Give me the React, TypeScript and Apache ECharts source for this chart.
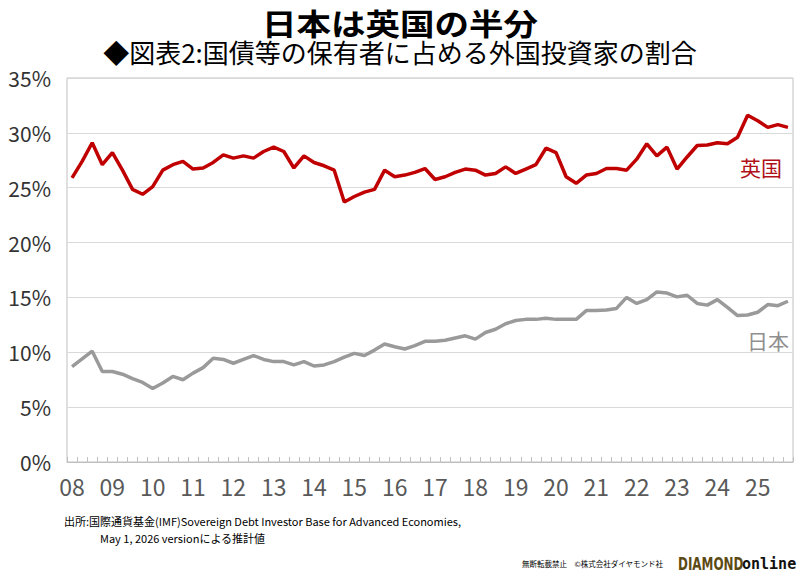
import React, { useEffect, useRef } from "react";
import * as echarts from "echarts";

const years = ["08", "09", "10", "11", "12", "13", "14", "15", "16", "17", "18", "19", "20", "21", "22", "23", "24", "25"];
const quarters = ["Q1", "Q2", "Q3", "Q4"];
const categories: string[] = [];
years.forEach((y) => quarters.forEach((q) => categories.push(y + q)));

const ukShare = [
  25.9, 27.4, 29.1, 27.1, 28.2, 26.6, 24.85, 24.4, 25.1, 26.6,
  27.1, 27.4, 26.7, 26.8, 27.3, 28.0, 27.7, 27.9, 27.7, 28.3,
  28.7, 28.3, 26.8, 27.9, 27.3, 27.0, 26.6, 23.7, 24.2, 24.6,
  24.85, 26.6, 26.0, 26.15, 26.4, 26.75, 25.75, 26.0, 26.4, 26.7,
  26.6, 26.15, 26.3, 26.9, 26.3, 26.7, 27.1, 28.6, 28.2, 26.0,
  25.4, 26.15, 26.3, 26.75, 26.75, 26.6, 27.6, 29.0, 27.9, 28.7,
  26.7, 27.8, 28.85, 28.9, 29.1, 29.0, 29.6, 31.6, 31.1, 30.5,
  30.75, 30.5,
];

const japanShare = [
  8.7, 9.4, 10.1, 8.25, 8.25, 8.0, 7.6, 7.25, 6.7, 7.2,
  7.8, 7.5, 8.1, 8.6, 9.45, 9.35, 9.0, 9.35, 9.7, 9.35,
  9.15, 9.15, 8.85, 9.15, 8.75, 8.85, 9.15, 9.55, 9.9, 9.7,
  10.2, 10.75, 10.5, 10.3, 10.6, 11.0, 11.0, 11.1, 11.3, 11.5,
  11.2, 11.8, 12.1, 12.6, 12.9, 13.0, 13.0, 13.1, 13.0, 13.0,
  13.0, 13.8, 13.8, 13.85, 14.0, 15.0, 14.45, 14.8, 15.5, 15.4,
  15.05, 15.2, 14.45, 14.3, 14.8, 14.1, 13.35, 13.4, 13.65, 14.35,
  14.25, 14.65,
];

const FONT = '"Noto Sans CJK JP", "Noto Sans", sans-serif';
const RED = "#C00000";
const GRAY = "#9a9a9a";

export default function App() {
  const ref = useRef<HTMLDivElement>(null);

  useEffect(() => {
    document.body.style.margin = "0";
    if (!ref.current) return;
    const chart = echarts.init(ref.current, undefined, { renderer: "svg" });
    chart.setOption({
      animation: false,
      backgroundColor: "#ffffff",
      textStyle: { fontFamily: FONT },
      grid: {
        left: 67,
        right: 7,
        top: 78,
        bottom: 118,
        show: true,
        borderColor: "#c0c0c0",
        borderWidth: 1,
        containLabel: false,
        outerBoundsMode: "none",
      },
      xAxis: {
        type: "category",
        data: categories,
        boundaryGap: true,
        axisLine: { lineStyle: { color: "#c0c0c0", width: 1 } },
        axisTick: { show: true, inside: true, length: 5, interval: 0, lineStyle: { color: "#c0c0c0" } },
        axisLabel: {
          interval: 3,
          margin: 12,
          fontSize: 23,
          color: "#595959",
          fontFamily: FONT,
          formatter: (v: string) => v.slice(0, 2),
        },
        splitLine: { show: false },
      },
      yAxis: {
        type: "value",
        min: 0,
        max: 35,
        interval: 5,
        axisLine: { show: false },
        axisTick: { show: false },
        axisLabel: {
          formatter: "{value}%",
          fontSize: 21,
          margin: 16,
          color: "#333333",
          fontFamily: FONT,
        },
        splitLine: { lineStyle: { color: "#d9d9d9", width: 1 } },
      },
      series: [
        {
          name: "英国",
          type: "line",
          data: ukShare,
          symbol: "none",
          lineStyle: { color: RED, width: 3.5 },
          itemStyle: { color: RED },
          z: 3,
        },
        {
          name: "日本",
          type: "line",
          data: japanShare,
          symbol: "none",
          lineStyle: { color: GRAY, width: 3.5 },
          itemStyle: { color: GRAY },
          z: 3,
        },
      ],
      graphic: [
        {
          type: "text",
          x: 400,
          y: 22,
          scaleX: 1.15,
          style: {
            text: "日本は英国の半分",
            font: `bold 30px ${FONT}`,
            fill: "#000000",
            align: "center",
            verticalAlign: "middle",
          },
        },
        {
          type: "text",
          x: 400,
          y: 51,
          style: {
            text: "◆図表2:国債等の保有者に占める外国投資家の割合",
            font: `26px ${FONT}`,
            fill: "#000000",
            align: "center",
            verticalAlign: "middle",
          },
        },
        {
          type: "text",
          x: 740,
          y: 156,
          style: { text: "英国", font: `21px ${FONT}`, fill: "#b01018" },
        },
        {
          type: "text",
          x: 747,
          y: 329,
          style: { text: "日本", font: `21px ${FONT}`, fill: "#8f8f8f" },
        },
        {
          type: "text",
          x: 64,
          y: 515,
          style: {
            text: "出所:国際通貨基金(IMF)Sovereign Debt Investor Base for Advanced Economies,",
            font: `11px ${FONT}`,
            fill: "#000000",
          },
        },
        {
          type: "text",
          x: 100,
          y: 532,
          style: {
            text: "May 1, 2026 versionによる推計値",
            font: `11px ${FONT}`,
            fill: "#000000",
          },
        },
        {
          type: "text",
          x: 522,
          y: 560,
          style: {
            text: "無断転載禁止　©株式会社ダイヤモンド社",
            font: `7.5px ${FONT}`,
            fill: "#000000",
          },
        },
        {
          type: "text",
          x: 678,
          y: 564,
          scaleX: 0.78,
          style: {
            text: "DIAMOND",
            font: `bold 17px "DejaVu Sans Condensed", "DejaVu Sans", sans-serif`,
            fill: "#5c4a14",
            verticalAlign: "middle",
          },
        },
        {
          type: "text",
          x: 742,
          y: 564,
          style: {
            text: "online",
            font: `bold 15px "DejaVu Sans Mono", "Liberation Mono", monospace`,
            fill: "#111111",
            verticalAlign: "middle",
          },
        },
      ],
    });
    return () => chart.dispose();
  }, []);

  return <div ref={ref} style={{ width: 800, height: 580 }} />;
}
